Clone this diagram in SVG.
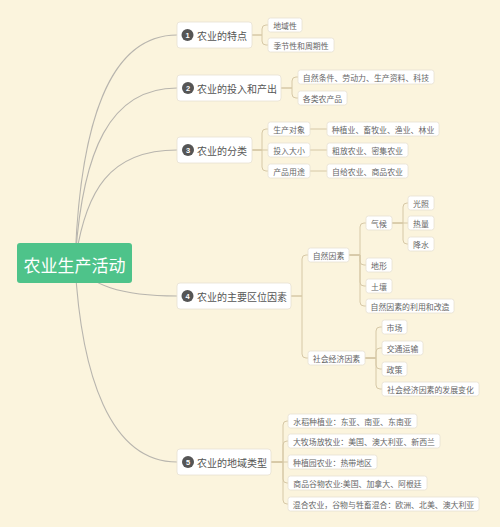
<svg xmlns="http://www.w3.org/2000/svg" width="500" height="531" viewBox="0 0 500 531">
<style>
.bg{fill:#FBF4DD}
.root{fill:#4EC38A}
.rt{fill:#fff;font-family:"Noto Sans CJK SC","Noto Sans",sans-serif;font-size:17px;text-anchor:middle;dominant-baseline:central}
.n1{fill:#fff;stroke:#E7E1D3;stroke-width:0.8}
.t1{fill:#555;font-family:"Noto Sans CJK SC","Noto Sans",sans-serif;font-size:10px;dominant-baseline:central}
.num{fill:#555}
.nt{fill:#fff;font-family:"Liberation Sans",sans-serif;font-size:7.5px;font-weight:bold;text-anchor:middle;dominant-baseline:central}
.lf{fill:#fff;stroke:#E7E1D3;stroke-width:0.8}
.t2{fill:#666;font-family:"Noto Sans CJK SC","Noto Sans",sans-serif;font-size:7.9px;text-anchor:middle;dominant-baseline:central}
.rc{fill:none;stroke:#B8B5AE;stroke-width:1.1}
.sc{fill:none;stroke:#D6C8A6;stroke-width:1}
</style>
<rect x="0" y="0" width="500" height="531" fill="#fff"/>
<rect class="bg" x="0" y="0" width="500" height="527"/>
<g id="connectors">
<path class="rc" d="M75,263 C80,120 110,35 177,35"/>
<path class="rc" d="M75,263 C82,150 110,88 177,88"/>
<path class="rc" d="M75,263 C85,190 110,150 177,150"/>
<path class="rc" d="M75,263 C90,285 120,296 177,296"/>
<path class="rc" d="M75,263 C81,375 110,462 177,462"/>
<path class="sc" d="M252,35 H262 V29 Q262,25 266,25 H268 M252,35 H262 V41 Q262,45 266,45 H268"/>
<path class="sc" d="M281,88 H292 V81 Q292,77 296,77 H298 M281,88 H292 V94 Q292,98 296,98 H298"/>
<path class="sc" d="M252,150 H262 V133 Q262,129 266,129 H268 M252,150 H268 M252,150 H262 V167 Q262,171 266,171 H268"/>
<path class="sc" d="M310,129 H327 M310,150 H327 M310,171 H327"/>
<path class="sc" d="M291,296 H302 V259 Q302,255 306,255 H308 M291,296 H302 V354 Q302,358 306,358 H308"/>
<path class="sc" d="M349,255 H360 V227 Q360,223 364,223 H366 M349,255 H360 V261 Q360,265 364,265 H366 M349,255 H360 V282 Q360,286 364,286 H366 M349,255 H360 V302 Q360,306 364,306 H366"/>
<path class="sc" d="M392,223 H403 V207 Q403,203 407,203 H408 M392,223 H408 M392,223 H403 V240 Q403,244 407,244 H408"/>
<path class="sc" d="M365,358 H376 V331 Q376,327 380,327 H382 M365,358 H376 V352 Q376,348 380,348 H382 M365,358 H376 V365 Q376,369 380,369 H382 M365,358 H376 V385 Q376,389 380,389 H382"/>
<path class="sc" d="M271,462 H283 V425 Q283,421 287,421 H288 M271,462 H283 V445 Q283,441 287,441 H288 M271,462 H288 M271,462 H283 V479 Q283,483 287,483 H288 M271,462 H283 V500 Q283,504 287,504 H288"/>
</g>
<g id="root"><rect class="root" x="17" y="243" width="115" height="40" rx="3"/><text class="rt" x="74.5" y="264">农业生产活动</text></g>

<g id="n1"><rect class="n1" x="177" y="22" width="75" height="26" rx="3"/><circle class="num" cx="187.5" cy="35" r="6"/><text class="nt" x="187.5" y="35">1</text><text class="t1" x="197" y="35">农业的特点</text></g>
<g id="n1a"><rect class="lf" x="268" y="18" width="34" height="14" rx="2.5"/><text class="t2" x="285" y="25">地域性</text></g>
<g id="n1b"><rect class="lf" x="268" y="38" width="66" height="14" rx="2.5"/><text class="t2" x="301" y="45">季节性和周期性</text></g>

<g id="n2"><rect class="n1" x="177" y="75" width="104" height="26" rx="3"/><circle class="num" cx="188" cy="88" r="6"/><text class="nt" x="188" y="88">2</text><text class="t1" x="197" y="88">农业的投入和产出</text></g>
<g id="n2a"><rect class="lf" x="298" y="70" width="136" height="14" rx="2.5"/><text class="t2" x="366" y="77">自然条件、劳动力、生产资料、科技</text></g>
<g id="n2b"><rect class="lf" x="298" y="91" width="49" height="14" rx="2.5"/><text class="t2" x="322.5" y="98">各类农产品</text></g>

<g id="n3"><rect class="n1" x="177" y="137" width="75" height="26" rx="3"/><circle class="num" cx="188" cy="150" r="6"/><text class="nt" x="188" y="150">3</text><text class="t1" x="197" y="150">农业的分类</text></g>
<g id="n3a"><rect class="lf" x="268" y="122" width="42" height="14" rx="2.5"/><text class="t2" x="289" y="129">生产对象</text></g>
<g id="n3b"><rect class="lf" x="268" y="143" width="42" height="14" rx="2.5"/><text class="t2" x="289" y="150">投入大小</text></g>
<g id="n3c"><rect class="lf" x="268" y="164" width="42" height="14" rx="2.5"/><text class="t2" x="289" y="171">产品用途</text></g>
<g id="n3a1"><rect class="lf" x="327" y="122" width="112" height="14" rx="2.5"/><text class="t2" x="383" y="129">种植业、畜牧业、渔业、林业</text></g>
<g id="n3b1"><rect class="lf" x="327" y="143" width="81" height="14" rx="2.5"/><text class="t2" x="367.5" y="150">粗放农业、密集农业</text></g>
<g id="n3c1"><rect class="lf" x="327" y="164" width="81" height="14" rx="2.5"/><text class="t2" x="367.5" y="171">自给农业、商品农业</text></g>

<g id="n4"><rect class="n1" x="177" y="283" width="114" height="26" rx="3"/><circle class="num" cx="187.5" cy="296" r="6"/><text class="nt" x="187.5" y="296">4</text><text class="t1" x="197" y="296">农业的主要区位因素</text></g>
<g id="n4a"><rect class="lf" x="308" y="248" width="41" height="14" rx="2.5"/><text class="t2" x="328.5" y="255">自然因素</text></g>
<g id="n4a1"><rect class="lf" x="366" y="216" width="26" height="14" rx="2.5"/><text class="t2" x="379" y="223">气候</text></g>
<g id="n4a1a"><rect class="lf" x="408" y="196" width="26" height="14" rx="2.5"/><text class="t2" x="421" y="203">光照</text></g>
<g id="n4a1b"><rect class="lf" x="408" y="216" width="26" height="14" rx="2.5"/><text class="t2" x="421" y="223">热量</text></g>
<g id="n4a1c"><rect class="lf" x="408" y="237" width="26" height="14" rx="2.5"/><text class="t2" x="421" y="244">降水</text></g>
<g id="n4a2"><rect class="lf" x="366" y="258" width="26" height="14" rx="2.5"/><text class="t2" x="379" y="265">地形</text></g>
<g id="n4a3"><rect class="lf" x="366" y="279" width="26" height="14" rx="2.5"/><text class="t2" x="379" y="286">土壤</text></g>
<g id="n4a4"><rect class="lf" x="366" y="299" width="88" height="14" rx="2.5"/><text class="t2" x="410" y="306">自然因素的利用和改造</text></g>
<g id="n4b"><rect class="lf" x="308" y="351" width="57" height="14" rx="2.5"/><text class="t2" x="336.5" y="358">社会经济因素</text></g>
<g id="n4b1"><rect class="lf" x="382" y="320" width="25" height="14" rx="2.5"/><text class="t2" x="394.5" y="327">市场</text></g>
<g id="n4b2"><rect class="lf" x="382" y="341" width="41" height="14" rx="2.5"/><text class="t2" x="402.5" y="348">交通运输</text></g>
<g id="n4b3"><rect class="lf" x="382" y="362" width="25" height="14" rx="2.5"/><text class="t2" x="394.5" y="369">政策</text></g>
<g id="n4b4"><rect class="lf" x="382" y="382" width="97" height="14" rx="2.5"/><text class="t2" x="430.5" y="389">社会经济因素的发展变化</text></g>

<g id="n5"><rect class="n1" x="177" y="449" width="94" height="26" rx="3"/><circle class="num" cx="188" cy="462" r="6"/><text class="nt" x="188" y="462">5</text><text class="t1" x="197" y="462">农业的地域类型</text></g>
<g id="n5a"><rect class="lf" x="288" y="414" width="129" height="14" rx="2.5"/><text class="t2" x="352.5" y="421">水稻种植业：东亚、南亚、东南亚</text></g>
<g id="n5b"><rect class="lf" x="288" y="434" width="152" height="14" rx="2.5"/><text class="t2" x="364" y="441">大牧场放牧业：美国、澳大利亚、新西兰</text></g>
<g id="n5c"><rect class="lf" x="288" y="455" width="89" height="14" rx="2.5"/><text class="t2" x="332.5" y="462">种植园农业：热带地区</text></g>
<g id="n5d"><rect class="lf" x="288" y="476" width="139" height="14" rx="2.5"/><text class="t2" x="357.5" y="483">商品谷物农业:美国、加拿大、阿根廷</text></g>
<g id="n5e"><rect class="lf" x="288" y="497" width="191" height="14" rx="2.5"/><text class="t2" x="383.5" y="504">混合农业，谷物与牲畜混合：欧洲、北美、澳大利亚</text></g>
</svg>
